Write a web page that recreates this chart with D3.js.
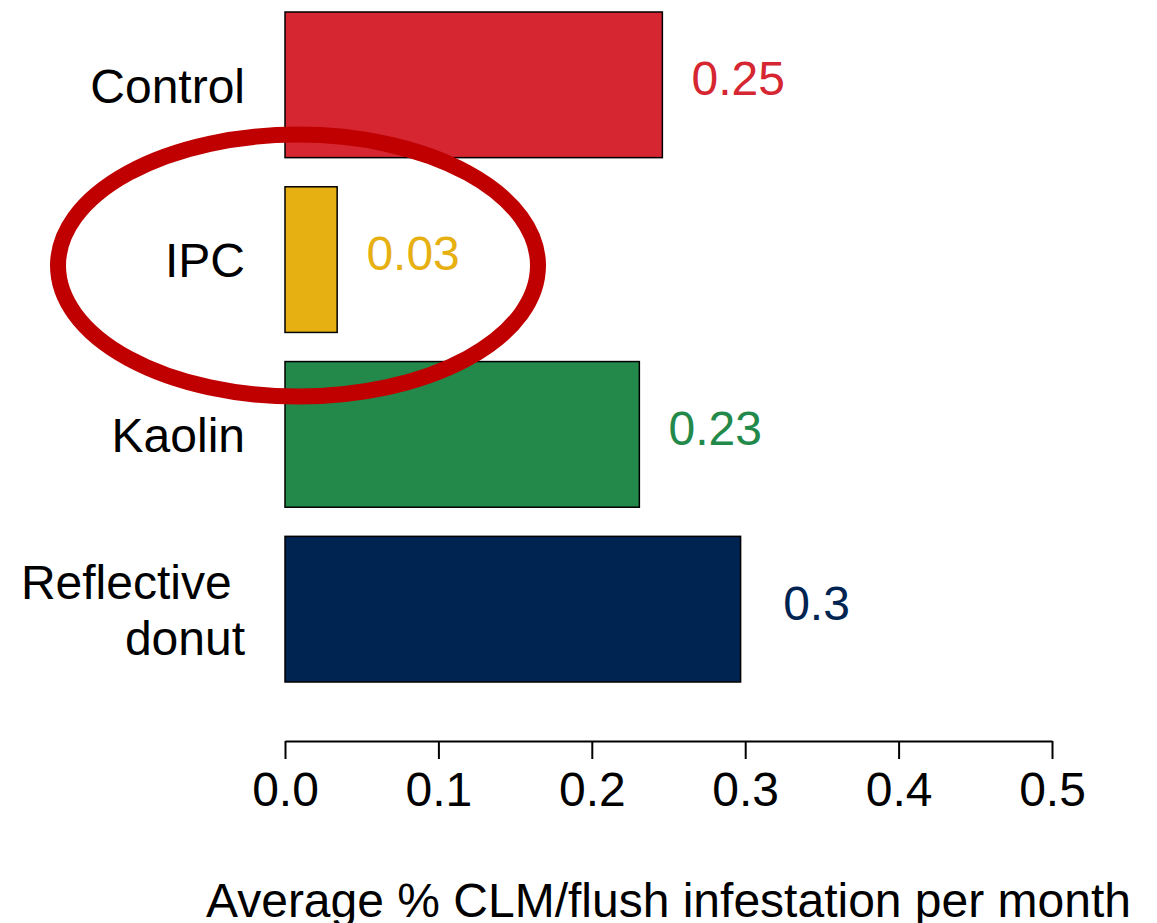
<!DOCTYPE html>
<html>
<head>
<meta charset="utf-8">
<script src="https://cdn.jsdelivr.net/npm/d3@7"></script>
<style>
  body { margin: 0; background: #fff; }
  svg text { font-family: "Liberation Sans", Arial, sans-serif; white-space: pre; }
</style>
</head>
<body>
<svg width="1157" height="923"></svg>
<script>
// chart data
const treatments = ['Control', 'IPC', 'Kaolin', 'Reflective \ndonut'];
const infestation = [0.246, 0.034, 0.231, 0.297];
const valueLabels = ['0.25', '0.03', '0.23', '0.3'];
const barColors = ['#d52631', '#e6b013', '#22894a', '#002452'];
const xTicks = [0, 0.1, 0.2, 0.3, 0.4, 0.5];

const svg = d3.select('svg');
const fontSize = '48px';

let xScale = d3.scaleLinear().domain([0, 0.5]).range([285, 1052]),
    yScale = d3.scaleBand().domain(treatments).range([12, 682])
        .paddingInner(1 / 6).paddingOuter(0);

// bars
svg.selectAll('rect.bar')
    .data(treatments)
    .enter()
    .append('rect')
    .attr('class', 'bar')
    .attr('x', xScale(0))
    .attr('y', d => yScale(d))
    .attr('width', (d, i) => xScale(infestation[i]) - xScale(0))
    .attr('height', yScale.bandwidth())
    .attr('fill', (d, i) => barColors[i])
    .attr('stroke', '#000')
    .attr('stroke-width', 1.5);

// value labels next to the bars
svg.selectAll('text.value')
    .data(treatments)
    .enter()
    .append('text')
    .attr('class', 'value')
    .attr('x', (d, i) => xScale(infestation[i] + 0.0495))
    .attr('y', d => yScale(d) + yScale.bandwidth() / 2)
    .attr('dy', '0.22em')
    .attr('text-anchor', 'middle')
    .style('font-size', fontSize)
    .attr('fill', (d, i) => barColors[i])
    .text((d, i) => valueLabels[i]);

// category labels (multi-line names, each line right aligned)
let cats = svg.selectAll('text.cat')
    .data(treatments)
    .enter()
    .append('text')
    .attr('class', 'cat')
    .attr('text-anchor', 'end')
    .style('font-size', fontSize)
    .attr('fill', '#000');

cats.each(function(d) {
    let lines = d.split('\n'),
        mid = yScale(d) + yScale.bandwidth() / 2,
        lineH = 56,
        t = d3.select(this);
    lines.forEach((w, k) => {
        t.append('tspan')
            .attr('x', 245)
            .attr('y', mid + (k - (lines.length - 1) / 2) * lineH)
            .attr('dy', '0.37em')
            .text(w);
    });
});

// x axis
let xAxis = svg.append('g')
    .attr('transform', 'translate(0, 741)')
    .call(d3.axisBottom(xScale).tickValues(xTicks).tickFormat(d3.format('.1f'))
        .tickSize(18).tickSizeOuter(0).tickPadding(13));

xAxis.select('.domain').attr('stroke', '#000').attr('stroke-width', 2);
xAxis.selectAll('.tick line').attr('stroke', '#000').attr('stroke-width', 2);
xAxis.selectAll('.tick text')
    .attr('fill', '#000')
    .style('font-size', fontSize)
    .style('font-family', '"Liberation Sans", Arial, sans-serif');

// axis title (runs off the bottom edge, as in the original)
svg.append('text')
    .attr('x', (xScale(0) + xScale(0.5)) / 2)
    .attr('y', 917)
    .attr('text-anchor', 'middle')
    .style('font-size', fontSize)
    .attr('fill', '#000')
    .text('Average % CLM/flush infestation per month');

// highlight ring round the IPC row
svg.append('ellipse')
    .attr('cx', 298)
    .attr('cy', yScale('IPC') + yScale.bandwidth() / 2 + 6)
    .attr('rx', 240)
    .attr('ry', 131)
    .attr('fill', 'none')
    .attr('stroke', '#c00000')
    .attr('stroke-width', 16);
</script>
</body>
</html>
